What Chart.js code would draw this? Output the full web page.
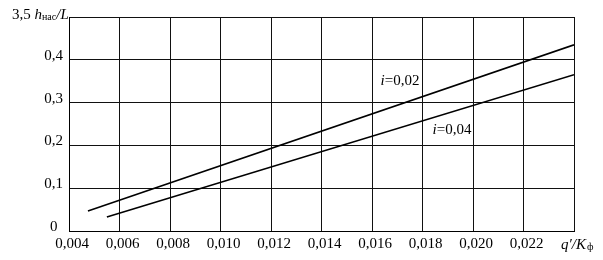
<!DOCTYPE html>
<html>
<head>
<meta charset="utf-8">
<script src="https://cdn.jsdelivr.net/npm/chart.js@4"></script>
<style>
html,body{margin:0;padding:0;background:#fff;}
#wrap{width:603px;height:260px;position:relative;}
</style>
</head>
<body>
<div id="wrap"><canvas id="c"></canvas></div>
<script>
// Data
const xTicks = [0.004, 0.006, 0.008, 0.010, 0.012, 0.014, 0.016, 0.018, 0.020, 0.022, 0.024];
const yTicks = [0, 0.1, 0.2, 0.3, 0.4, 0.5];
const seriesNames = ['i=0,02', 'i=0,04'];
const xI002 = [0.00475, 0.024];
const yI002 = [0.0465, 0.435];
const xI004 = [0.0055, 0.024];
const yI004 = [0.0326, 0.365];
// label anchor positions (in data units)
const labelX = [0.01711, 0.01917];
const labelY = [0.351, 0.235];

const FONT = '"Liberation Serif", "Times New Roman", serif';

function pts(xs, ys){ return xs.map((x,i)=>({x:x, y:ys[i]})); }
function fmt(v, digits){ return v.toFixed(digits).replace('.', ','); }

const textPlugin = {
  id: 'texts',
  afterDraw(chart){
    const ctx = chart.ctx;
    const xs = chart.scales.x, ys = chart.scales.y;
    ctx.save();
    ctx.fillStyle = '#000';
    ctx.textBaseline = 'alphabetic';
    // y-axis title: 3,5 h_нас/L
    let x = 12, y = 19;
    ctx.font = '15px ' + FONT;
    ctx.fillText('3,5 ', x, y); x += ctx.measureText('3,5 ').width;
    ctx.font = 'italic 15px ' + FONT;
    ctx.fillText('h', x, y); x += ctx.measureText('h').width;
    ctx.font = '10px ' + FONT;
    ctx.fillText('нас', x, y + 1); x += ctx.measureText('нас').width;
    ctx.font = 'italic 15px ' + FONT;
    ctx.fillText('/L', x, y);
    // x-axis title: q'/K_ф
    x = 561; y = 249;
    ctx.font = 'italic 15px ' + FONT;
    ctx.fillText('q\u2032/K', x, y); x += ctx.measureText('q\u2032/K').width;
    ctx.font = '10px ' + FONT;
    ctx.fillText('ф', x + 1, y + 1);
    // series labels
    for (let k = 0; k < seriesNames.length; k++){
      const cx = xs.getPixelForValue(labelX[k]);
      const cy = ys.getPixelForValue(labelY[k]);
      const name = seriesNames[k];
      const rest = name.slice(1);
      ctx.font = 'italic 15px ' + FONT;
      const w1 = ctx.measureText('i').width;
      ctx.font = '15px ' + FONT;
      const w2 = ctx.measureText(rest).width;
      let sx = cx - (w1 + w2) / 2;
      ctx.textBaseline = 'middle';
      ctx.font = 'italic 15px ' + FONT;
      ctx.fillText('i', sx, cy);
      ctx.font = '15px ' + FONT;
      ctx.fillText(rest, sx + w1, cy);
    }
    ctx.restore();
  }
};

new Chart(document.getElementById('c'), {
  type: 'line',
  data: {
    datasets: [
      {label: seriesNames[0], data: pts(xI002, yI002), borderColor: '#000', borderWidth: 1.6, pointRadius: 0, fill: false, tension: 0},
      {label: seriesNames[1], data: pts(xI004, yI004), borderColor: '#000', borderWidth: 1.6, pointRadius: 0, fill: false, tension: 0}
    ]
  },
  options: {
    responsive: true,
    maintainAspectRatio: false,
    animation: false,
    events: [],
    layout: {padding: {top: 17, right: 29, left: 0, bottom: 0}},
    plugins: {legend: {display: false}, tooltip: {enabled: false}},
    scales: {
      x: {
        type: 'linear',
        min: xTicks[0], max: xTicks[xTicks.length - 1],
        afterBuildTicks(scale){ scale.ticks = xTicks.map(v => ({value: v})); },
        afterFit(scale){ scale.height = 29; },
        grid: {color: '#111', lineWidth: 1, drawTicks: false},
        border: {color: '#000', width: 1},
        ticks: {
          padding: 4,
          labelOffset: 3,
          maxRotation: 0,
          autoSkip: false,
          color: '#000',
          font: {family: FONT, size: 15},
          callback(v){ return Math.abs(v - 0.024) < 1e-9 ? '' : fmt(v, 3); }
        }
      },
      y: {
        type: 'linear',
        min: yTicks[0], max: yTicks[yTicks.length - 1],
        afterBuildTicks(scale){ scale.ticks = yTicks.map(v => ({value: v})); },
        afterFit(scale){ scale.width = 69; },
        grid: {color: '#111', lineWidth: 1, drawTicks: false},
        border: {color: '#000', width: 1},
        ticks: {
          padding: 6,
          labelOffset: -4,
          crossAlign: 'center',
          color: '#000',
          font: {family: FONT, size: 15},
          callback(v){ if (Math.abs(v - 0.5) < 1e-9) return ''; return v === 0 ? '0' : fmt(v, 1); }
        }
      }
    }
  },
  plugins: [textPlugin]
});
</script>
</body>
</html>
